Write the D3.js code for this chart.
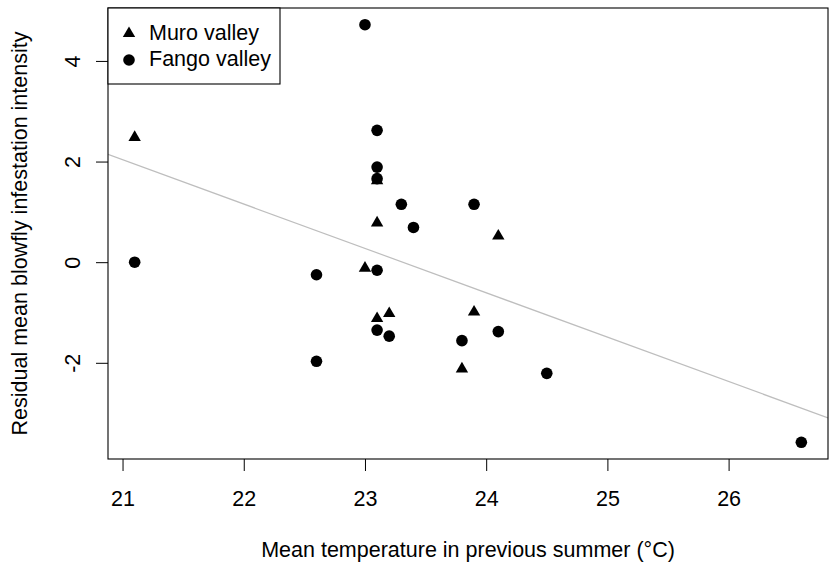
<!DOCTYPE html>
<html>
<head>
<meta charset="utf-8">
<script src="https://cdn.jsdelivr.net/npm/d3@7"></script>
<style>
  html, body { margin: 0; padding: 0; background: #fff; }
  svg text { font-family: "Liberation Sans", Arial, Helvetica, sans-serif; fill: #000; }
</style>
</head>
<body>
<svg id="chart" width="832" height="567"></svg>
<script>
// ---- data ----
const muroTemp  = [21.1, 23.1, 23.1, 24.1, 23.0, 23.1, 23.2, 23.9, 23.8];
const muroResid = [2.48, 1.62, 0.78, 0.52, -0.12, -1.12, -1.02, -0.99, -2.12];

const fangoTemp  = [21.1, 23.0, 23.1, 23.1, 23.1, 23.3, 23.9, 23.4, 22.6, 23.1, 23.1, 23.2, 24.1, 23.8, 22.6, 24.5, 26.6];
const fangoResid = [0.0, 4.72, 2.62, 1.89, 1.66, 1.15, 1.15, 0.69, -0.25, -0.16, -1.35, -1.47, -1.38, -1.56, -1.97, -2.21, -3.58];

const xTicks = [21, 22, 23, 24, 25, 26];
const yTicks = [-2, 0, 2, 4];
const legendLabels = ["Muro valley", "Fango valley"];
const fitIntercept = 20.56;
const fitSlope = -0.882;

const xLabel = "Mean temperature in previous summer (°C)";
const yLabel = "Residual mean blowfly infestation intensity";

// ---- layout ----
const L = 108, R = 828, T = 8, B = 459;
const fs = 21.5;
const svg = d3.select("#chart");

const allX = muroTemp.concat(fangoTemp);
const allY = muroResid.concat(fangoResid);
const pad = (e) => { const d = (e[1] - e[0]) * 0.04; return [e[0] - d, e[1] + d]; };
const x = d3.scaleLinear().domain(pad(d3.extent(allX))).range([L, R]);
const y = d3.scaleLinear().domain(pad(d3.extent(allY))).range([B, T]);

// clip
svg.append("defs").append("clipPath").attr("id", "clip")
  .append("rect").attr("x", L).attr("y", T).attr("width", R - L).attr("height", B - T);

// regression line
const xd = x.domain();
svg.append("line")
  .attr("clip-path", "url(#clip)")
  .attr("x1", x(xd[0])).attr("y1", y(fitIntercept + fitSlope * xd[0]))
  .attr("x2", x(xd[1])).attr("y2", y(fitIntercept + fitSlope * xd[1]))
  .attr("stroke", "#bebebe").attr("stroke-width", 1.2);

// axes
const fmt = d => String(d);
const xAxis = d3.axisBottom(x).tickValues(xTicks).tickSize(12).tickPadding(10).tickFormat(fmt);
const gx = svg.append("g").attr("transform", `translate(0,${B})`).call(xAxis);
gx.select(".domain").remove();
gx.selectAll(".tick line").attr("stroke", "#000").attr("stroke-width", 1);
gx.selectAll(".tick text").attr("font-size", fs).attr("dy", null).attr("y", 47).style("fill", "#000");

const yAxis = d3.axisLeft(y).tickValues(yTicks).tickSize(12).tickFormat(fmt);
const gy = svg.append("g").attr("transform", `translate(${L},0)`).call(yAxis);
gy.select(".domain").remove();
gy.selectAll(".tick line").attr("stroke", "#000").attr("stroke-width", 1);
gy.selectAll(".tick text")
  .attr("font-size", fs)
  .attr("x", null).attr("dy", null)
  .attr("text-anchor", "middle")
  .attr("transform", "translate(-28,0) rotate(-90)")
  .style("fill", "#000");

// box
svg.append("rect").attr("x", L).attr("y", T).attr("width", R - L).attr("height", B - T)
  .attr("fill", "none").attr("stroke", "#000").attr("stroke-width", 1.1);

// axis titles
svg.append("text").attr("x", (L + R) / 2).attr("y", 557)
  .attr("text-anchor", "middle").attr("font-size", fs).text(xLabel);
svg.append("text").attr("transform", `translate(27,${(T + B) / 2}) rotate(-90)`)
  .attr("text-anchor", "middle").attr("font-size", fs).text(yLabel);

// symbols
const tri = () => {
  const hw = 6.2, top = 7.1, bot = 3.55;
  return `M0,${-top}L${hw},${bot}L${-hw},${bot}Z`;
};
const rc = 5.8;

svg.append("g").selectAll("path").data(muroTemp.map((t, i) => [t, muroResid[i]]))
  .join("path")
  .attr("transform", d => `translate(${x(d[0])},${y(d[1])})`)
  .attr("d", tri()).attr("fill", "#000");

svg.append("g").selectAll("circle").data(fangoTemp.map((t, i) => [t, fangoResid[i]]))
  .join("circle")
  .attr("cx", d => x(d[0])).attr("cy", d => y(d[1])).attr("r", rc).attr("fill", "#000");

// legend
const lg = svg.append("g");
lg.append("rect").attr("x", L).attr("y", T).attr("width", 172).attr("height", 76)
  .attr("fill", "#fff").attr("stroke", "#000").attr("stroke-width", 1.1);
lg.append("path").attr("transform", `translate(129,33.5)`).attr("d", tri()).attr("fill", "#000");
lg.append("circle").attr("cx", 129).attr("cy", 60).attr("r", rc).attr("fill", "#000");
lg.append("text").attr("x", 149).attr("y", 40).attr("font-size", fs).text(legendLabels[0]);
lg.append("text").attr("x", 149).attr("y", 66).attr("font-size", fs).text(legendLabels[1]);
</script>
</body>
</html>
